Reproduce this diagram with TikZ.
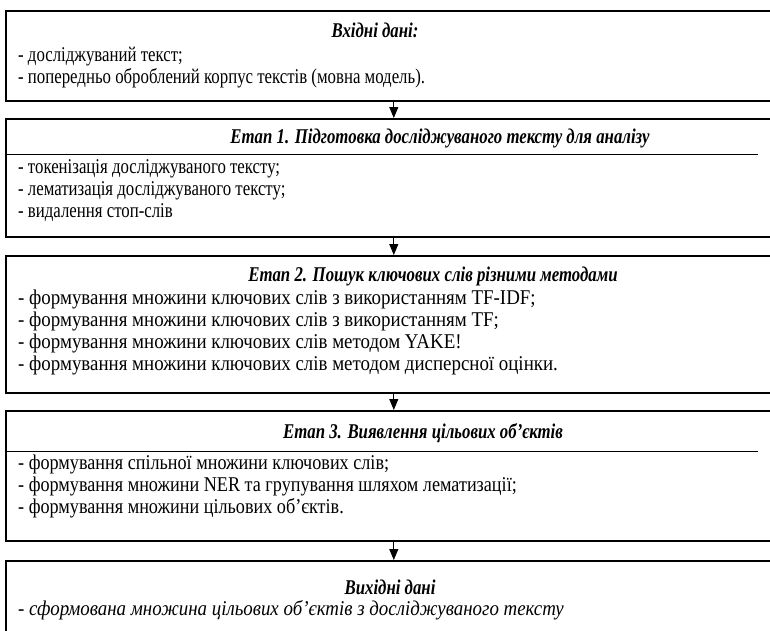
\documentclass[tikz,border=0pt]{standalone}
\usepackage{fontspec}
\setmainfont{Liberation Serif}[FakeStretch=0.8]
\newfontfamily\serifwide{Liberation Serif}[FakeStretch=0.9]
\newfontfamily\serifmid{Liberation Serif}[FakeStretch=0.865]
\usetikzlibrary{arrows.meta}
\begin{document}
\begin{tikzpicture}[x=1pt,y=-1pt,
  box/.style={draw, line width=1.6pt, minimum width=776pt, anchor=north west, inner sep=0pt},
  ttl/.style={font=\fontsize{21}{24}\selectfont\bfseries\itshape, anchor=base, inner sep=0pt},
  itm/.style={font=\fontsize{21}{24}\selectfont, anchor=base west, inner sep=0pt},
  itmw/.style={font=\fontsize{21}{24}\selectfont\serifwide, anchor=base west, inner sep=0pt},
  itmm/.style={font=\fontsize{21}{24}\selectfont\serifmid, anchor=base west, inner sep=0pt},
  itmi/.style={font=\fontsize{21}{24}\selectfont\serifwide\itshape, anchor=base west, inner sep=0pt},
  rule/.style={line width=1pt},
  arr/.style={line width=0.9pt, -{Triangle[width=9pt,length=11pt]}}]
\clip (0,0) rectangle (770,630);
% boxes
\node[box, minimum height=90pt]  (b1) at (5,10) {};
\node[box, minimum height=118pt] (b2) at (5,118) {};
\node[box, minimum height=137pt] (b3) at (5,255) {};
\node[box, minimum height=130pt] (b4) at (5,410) {};
\node[box, minimum height=95pt]  (b5) at (5,560) {};
% box 1
\node[ttl] (t1) at (375,37) {Вхідні дані:};
\node[itm] (l11) at (18,61) {- досліджуваний текст;};
\node[itm] (l12) at (18,83) {- попередньо оброблений корпус текстів (мовна модель).};
% box 2
\node[ttl] (t2) at (440,143) {Етап 1. Підготовка досліджуваного тексту для аналізу};
\draw[rule] (5,154) -- (758,154);
\node[itm] (l21) at (18,173) {- токенізація досліджуваного тексту;};
\node[itm] (l22) at (18,195) {- лематизація досліджуваного тексту;};
\node[itm] (l23) at (18,217) {- видалення стоп-слів};
% box 3
\node[ttl] (t3) at (433,281) {Етап 2. Пошук ключових слів різними методами};
\node[itmw] (l31) at (18,304) {- формування множини ключових слів з використанням TF-IDF;};
\node[itmw] (l32) at (18,326) {- формування множини ключових слів з використанням TF;};
\node[itmw] (l33) at (18,348) {- формування множини ключових слів методом YAKE!};
\node[itmw] (l34) at (18,370) {- формування множини ключових слів методом дисперсної оцінки.};
% box 4
\node[ttl] (t4) at (423,438) {Етап 3. Виявлення цільових об’єктів};
\draw[rule] (5,451) -- (758,451);
\node[itmm] (l41) at (18,469) {- формування спільної множини ключових слів;};
\node[itmm] (l42) at (18,491) {- формування множини NER та групування шляхом лематизації;};
\node[itmm] (l43) at (18,513) {- формування множини цільових об’єктів.};
% box 5
\node[ttl] (t5) at (390,594) {Вихідні дані};
\node[itmi] (l51) at (18,615) {- сформована множина цільових об’єктів з досліджуваного тексту};
% arrows
\draw[arr] (b1.south) -- (b2.north);
\draw[arr] (b2.south) -- (b3.north);
\draw[arr] (b3.south) -- (b4.north);
\draw[arr] (b4.south) -- (b5.north);
\end{tikzpicture}
\end{document}
